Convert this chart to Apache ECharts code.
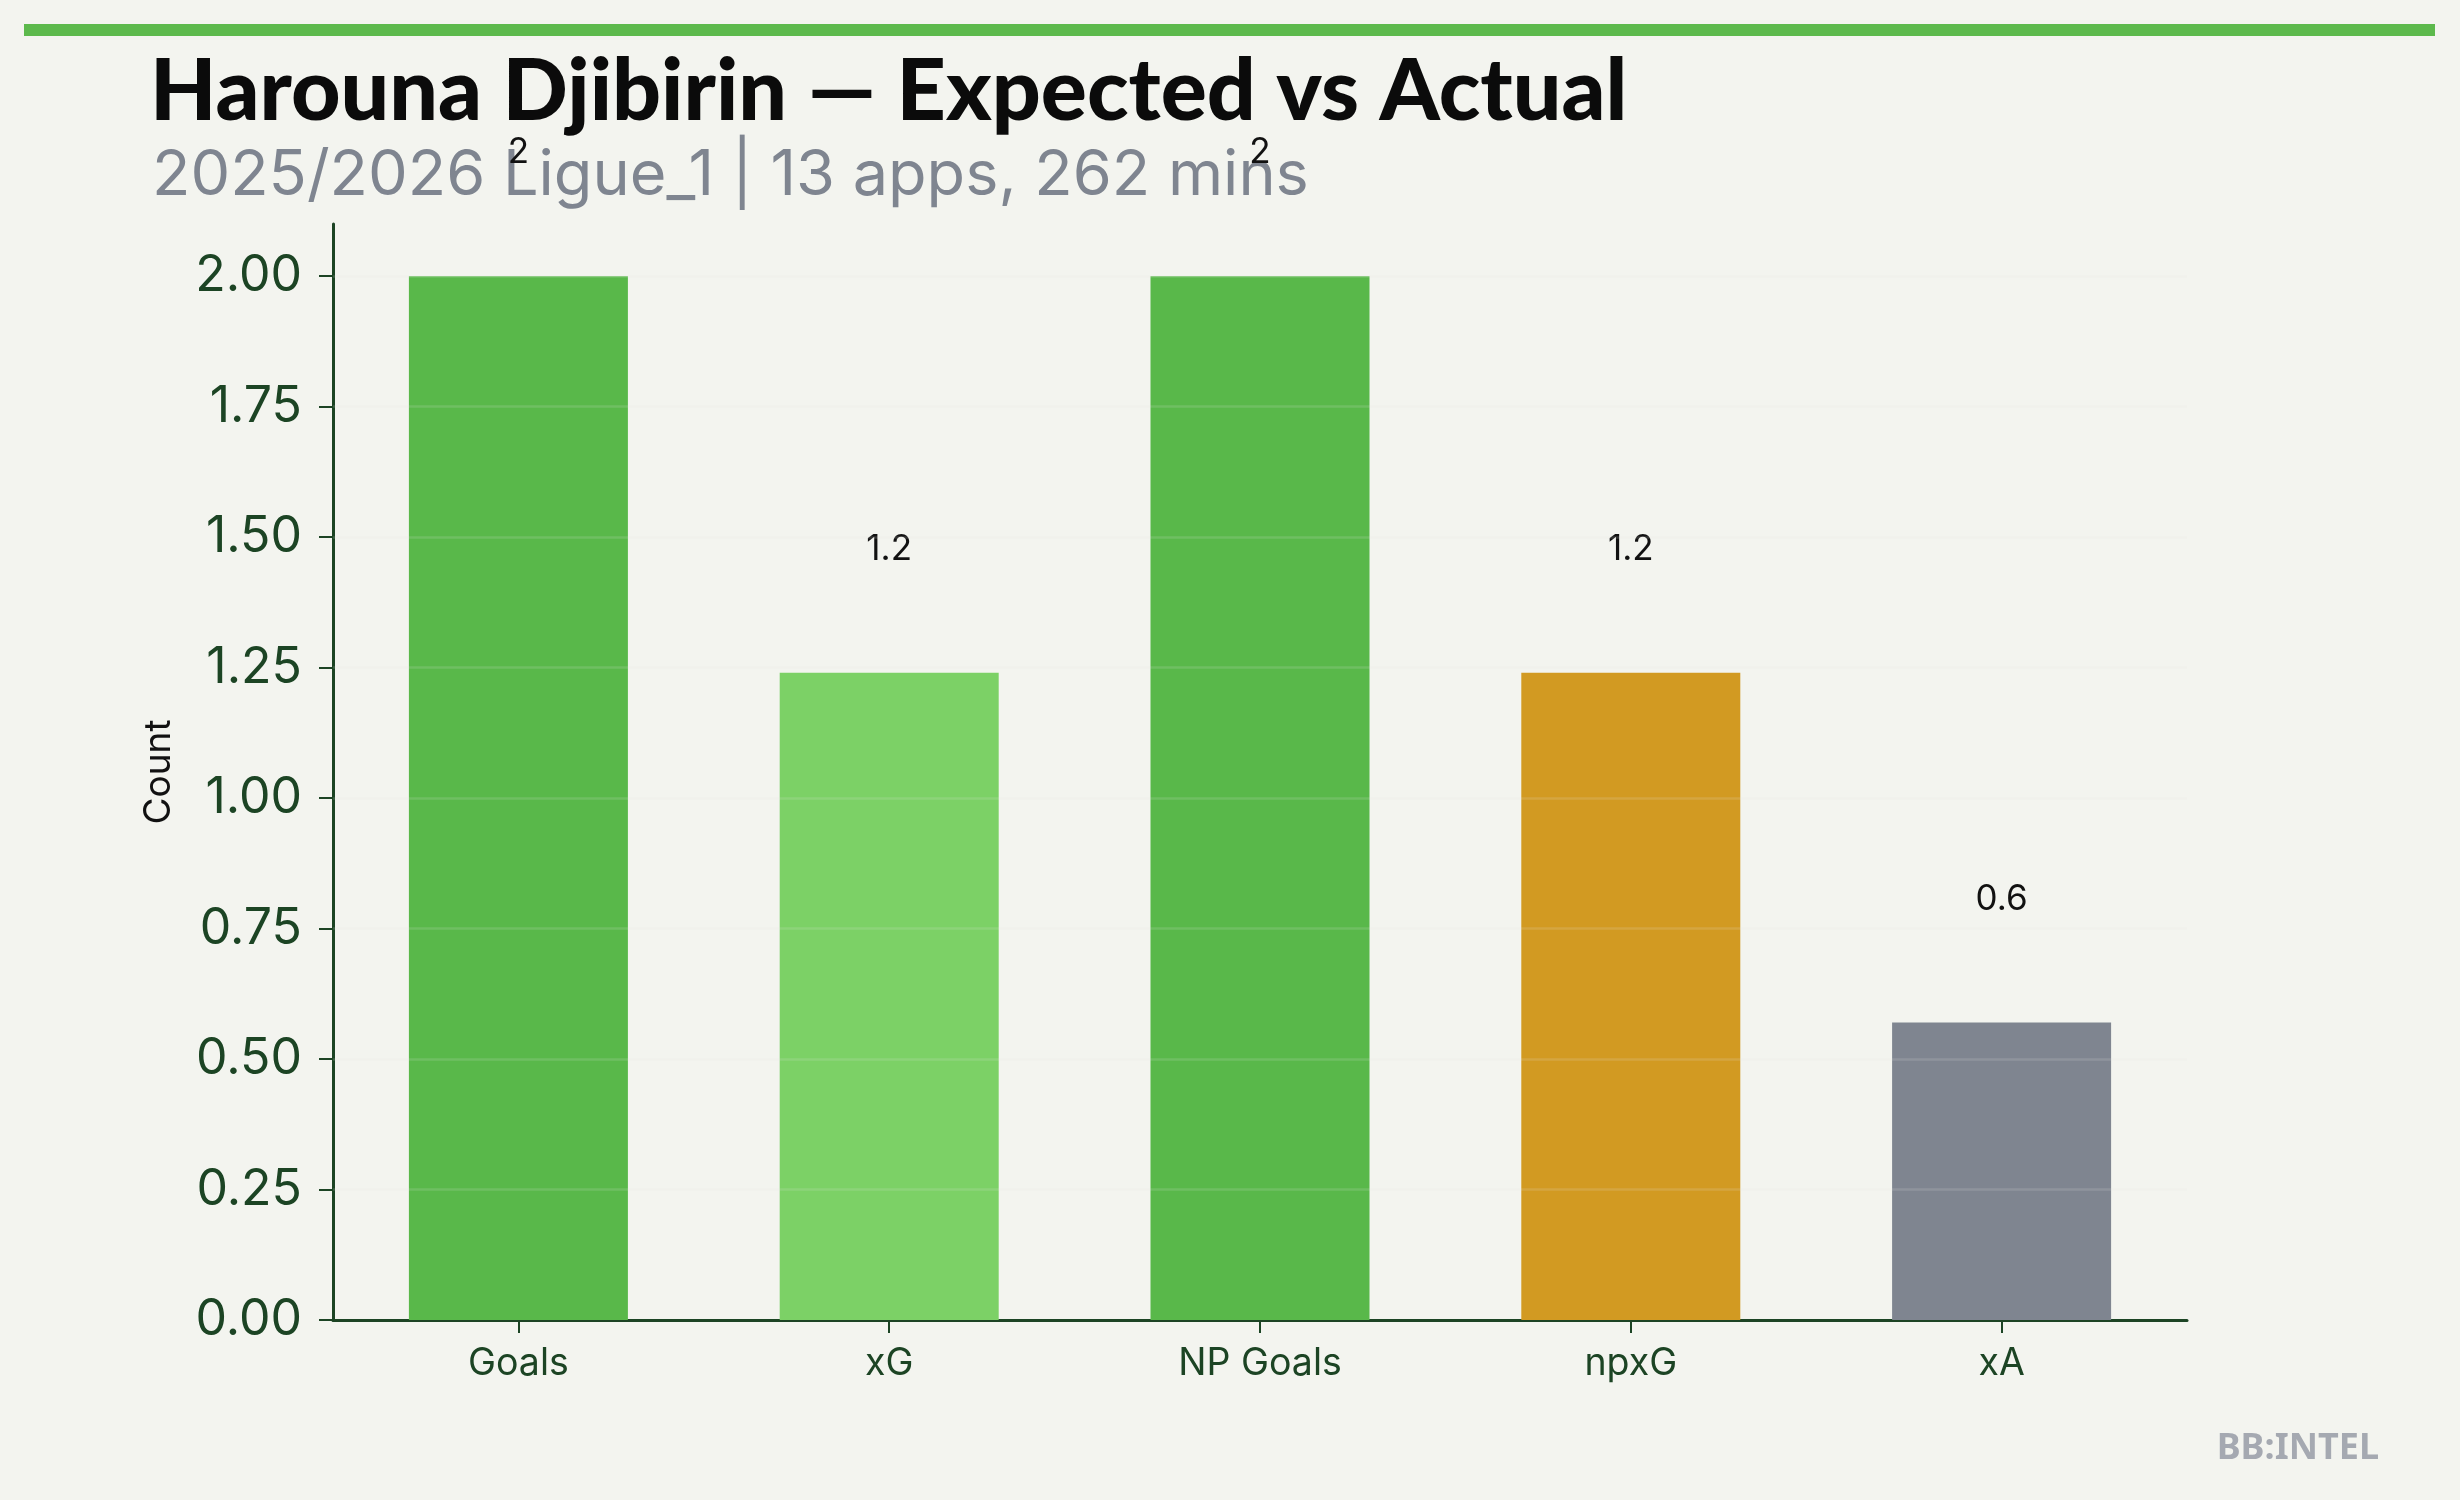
<!DOCTYPE html>
<html>
<head>
<meta charset="utf-8">
<script src="https://cdn.jsdelivr.net/npm/echarts@6/dist/echarts.min.js"></script>
<style>
html,body{margin:0;padding:0;background:#f3f4ef;}
#chart{width:2460px;height:1500px;}
</style>
</head>
<body>
<div id="chart"></div>
<script>
const categories = ['Goals', 'xG', 'NP Goals', 'npxG', 'xA'];
const values = [2, 1.24, 2, 1.24, 0.57];
const barColors = ['#59b84a', '#7cd166', '#59b84a', '#d29a22', '#7f8590'];
const yTicks = [0, 0.25, 0.5, 0.75, 1.0, 1.25, 1.5, 1.75, 2.0];
const titleText = 'Harouna Djibirin \u2014 Expected vs Actual';
const subtitleText = '2025/2026 Ligue_1 | 13 apps, 262 mins';
const yName = 'Count';
const watermark = 'BB:INTEL';

const axisColor = '#1c4424';
const chart = echarts.init(document.getElementById('chart'), null, {renderer: 'canvas'});

const option = {
  backgroundColor: '#f3f4ef',
  animation: false,
  grid: {left: 333, right: 273, top: 224, bottom: 180, containLabel: false, outerBoundsMode: 'none'},
  xAxis: {
    type: 'category',
    data: categories,
    axisLine: {show: true, lineStyle: {color: axisColor, width: 3}},
    axisTick: {show: true, alignWithLabel: true, length: 13, lineStyle: {color: axisColor, width: 2}},
    axisLabel: {color: axisColor, fontFamily: 'Inter', fontSize: 37.5, margin: 25},
    splitLine: {show: false}
  },
  yAxis: {
    type: 'value',
    min: 0,
    max: 2.1,
    name: yName,
    nameLocation: 'middle',
    nameGap: 156,
    nameRotate: 90,
    nameTextStyle: {color: '#111', fontFamily: 'Inter', fontSize: 37},
    axisLine: {show: true, lineStyle: {color: axisColor, width: 3}},
    axisTick: {show: true, length: 14, customValues: yTicks, lineStyle: {color: axisColor, width: 2}},
    axisLabel: {color: axisColor, fontFamily: 'Inter', fontSize: 50, margin: 31, customValues: yTicks,
      formatter: v => v.toFixed(2)},
    splitLine: {show: false}
  },
  series: [{
    type: 'bar',
    barWidth: 219,
    z: 2,
    data: values.map((v, i) => ({value: v, itemStyle: {color: barColors[i]}})),
    label: {
      show: true, position: 'top', distance: 106, color: '#111', fontFamily: 'Inter', fontSize: 35,
      formatter: p => String(Number(p.value.toFixed(1)))
    },
    markLine: {
      silent: true, symbol: 'none', z: 5,
      label: {show: false},
      lineStyle: {color: 'rgba(230,230,225,0.16)', width: 2.5, type: 'solid'},
      data: yTicks.filter(t => t > 0).map(t => ({yAxis: t}))
    }
  }],
  graphic: [
    {type: 'rect', shape: {x: 24, y: 24, width: 2411, height: 12}, style: {fill: '#5cb94c'}, z: 10},
    {type: 'text', x: 150, y: 92, style: {text: titleText, fill: '#0b0b0b', font: '900 86px Lato', verticalAlign: 'middle', align: 'left'}, z: 10},
    {type: 'text', x: 152, y: 176, style: {text: subtitleText, fill: '#7f8590', font: '400 63px Inter', verticalAlign: 'middle', align: 'left'}, z: 1},
    {type: 'text', x: 2379, y: 1449, style: {text: watermark, fill: '#a5a9b1', font: '700 36px "Noto Sans"', verticalAlign: 'middle', align: 'right'}, z: 10}
  ]
};
chart.setOption(option);
</script>
</body>
</html>
